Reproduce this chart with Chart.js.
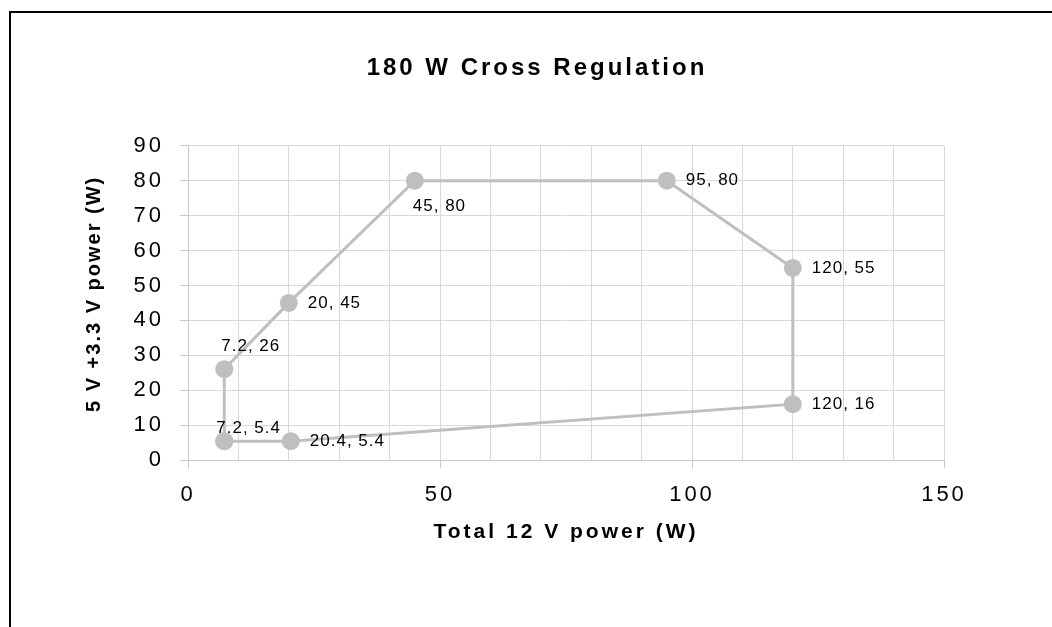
<!DOCTYPE html>
<html>
<head>
<meta charset="utf-8">
<script src="https://cdn.jsdelivr.net/npm/chart.js@4/dist/chart.umd.min.js"></script>
<style>
html, body { margin: 0; padding: 0; background: #fff; overflow: hidden; }
#frame { position: absolute; left: 9px; top: 11px; width: 1200px; height: 800px; border: 2px solid #000; }
#plot { position: absolute; left: 0; top: 0; }
</style>
</head>
<body>
<div id="frame"></div>
<canvas id="plot" width="1052" height="627"></canvas>
<script>
// chart data (path order, last point closes the loop)
var chartTitle = '180 W Cross Regulation';
var xTitle = 'Total 12 V power (W)';
var yTitle = '5 V +3.3 V power (W)';
var xValues = [7.2, 20.4, 120, 120, 95, 45, 20, 7.2, 7.2];
var yValues = [5.4, 5.4, 16, 55, 80, 80, 45, 26, 5.4];
var xLabelValues = [0, 50, 100, 150];
var yLabelValues = [0, 10, 20, 30, 40, 50, 60, 70, 80, 90];

// where each point's text sits relative to the marker
var labelPlace = [
    {dx: -8, dy: -13},
    {dx: 19, dy: 0},
    {dx: 19, dy: 0},
    {dx: 19, dy: 0},
    {dx: 19, dy: 0},
    {dx: -2, dy: 26},
    {dx: 19, dy: 0},
    {dx: -3, dy: -23},
    null
];

var FONT = '"Liberation Sans", Arial, sans-serif';
Chart.defaults.font.family = FONT;
Chart.defaults.color = '#000';

var points = xValues.map(function (x, i) { return {x: x, y: yValues[i]}; });

// the original spaces its letters out
const letterSpacing = {
    id: 'letterSpacing',
    beforeLayout: function (chart) { chart.ctx.letterSpacing = '3px'; },
    beforeDraw: function (chart) { chart.ctx.letterSpacing = '3px'; }
};

const pointLabels = {
    id: 'pointLabels',
    afterDatasetsDraw: function (chart) {
        const ctx = chart.ctx;
        const meta = chart.getDatasetMeta(0);
        ctx.save();
        ctx.font = '17px ' + FONT;
        ctx.letterSpacing = '1px';
        ctx.fillStyle = '#000';
        ctx.textAlign = 'left';
        ctx.textBaseline = 'middle';
        meta.data.forEach(function (pt, i) {
            const place = labelPlace[i];
            if (!place) return;
            ctx.fillText(xValues[i] + ', ' + yValues[i], pt.x + place.dx, pt.y + place.dy);
        });
        ctx.restore();
    }
};

// y axis title: tighter spacing and a bit above the axis middle, so drawn here
const yAxisTitle = {
    id: 'yAxisTitle',
    afterDraw: function (chart) {
        const ctx = chart.ctx;
        const area = chart.chartArea;
        ctx.save();
        ctx.font = 'bold 20px ' + FONT;
        ctx.letterSpacing = '2px';
        ctx.fillStyle = '#000';
        ctx.textAlign = 'center';
        ctx.textBaseline = 'middle';
        ctx.translate(94, (area.top + area.bottom) / 2 - 8);
        ctx.rotate(-Math.PI / 2);
        ctx.fillText(yTitle, 1, 0);
        ctx.restore();
    }
};

var gridColor = '#d9d9d9';
var axisColor = '#c8c8c8';

new Chart(document.getElementById('plot'), {
    type: 'scatter',
    data: {
        datasets: [{
            data: points,
            showLine: true,
            borderColor: '#bfbfbf',
            borderWidth: 3,
            tension: 0,
            pointRadius: 9,
            pointHoverRadius: 9,
            pointBackgroundColor: '#bfbfbf',
            pointBorderWidth: 0
        }]
    },
    options: {
        responsive: false,
        animation: false,
        layout: { padding: { left: 130, right: 108, top: 0, bottom: 0 } },
        plugins: {
            legend: { display: false },
            tooltip: { enabled: false },
            title: {
                display: true,
                text: chartTitle,
                color: '#000',
                font: { size: 24, weight: 'bold' },
                padding: { top: 54, bottom: 63 }
            }
        },
        scales: {
            x: {
                type: 'linear',
                min: 0,
                max: 150,
                afterFit: function (scale) { scale.height = 167; },
                ticks: {
                    stepSize: 10,
                    padding: 14,
                    font: { size: 22 },
                    color: '#000',
                    maxRotation: 0,
                    autoSkip: false,
                    callback: function (v) { return xLabelValues.indexOf(v) >= 0 ? String(v) : ''; }
                },
                grid: {
                    color: gridColor,
                    tickLength: 8,
                    tickColor: function (c) {
                        return c.tick && xLabelValues.indexOf(c.tick.value) >= 0 ? axisColor : 'rgba(0,0,0,0)';
                    }
                },
                border: { color: axisColor },
                title: {
                    display: true,
                    text: xTitle,
                    color: '#000',
                    font: { size: 21, weight: 'bold' },
                    padding: { top: 0, bottom: 82 }
                }
            },
            y: {
                type: 'linear',
                min: 0,
                max: 90,
                afterFit: function (scale) { scale.width = 58; },
                ticks: {
                    stepSize: 10,
                    padding: 16,
                    font: { size: 22 },
                    color: '#000',
                    callback: function (v) { return yLabelValues.indexOf(v) >= 0 ? String(v) : ''; }
                },
                grid: { color: gridColor, tickLength: 8, tickColor: axisColor },
                border: { color: axisColor }
            }
        }
    },
    plugins: [letterSpacing, pointLabels, yAxisTitle]
});
</script>
</body>
</html>
